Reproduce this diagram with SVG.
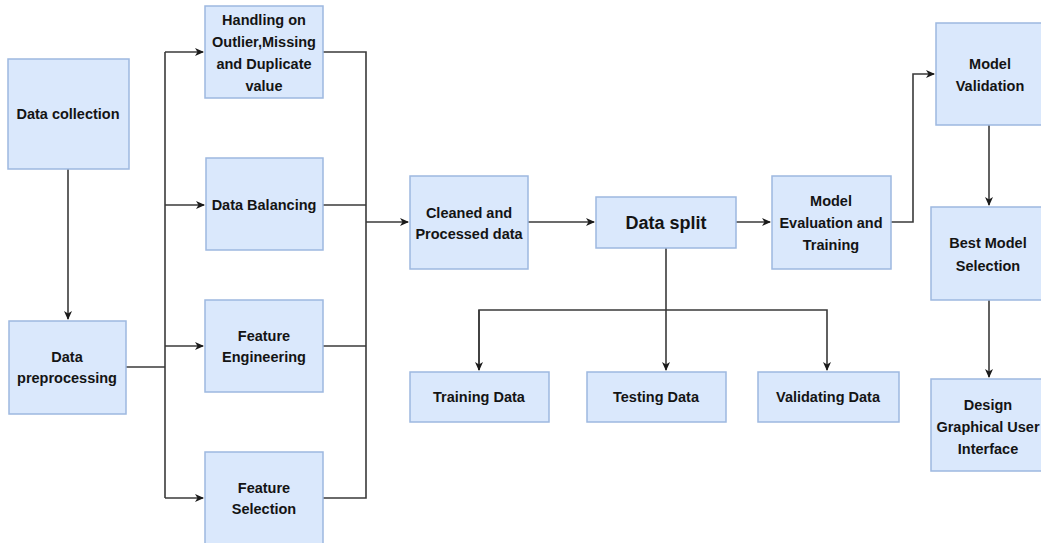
<svg xmlns="http://www.w3.org/2000/svg" width="1041" height="543" viewBox="0 0 1041 543">
<style>
.box{fill:#dae8fc;stroke:#9db8e0;stroke-width:1.5}
.t{font-family:"Liberation Sans",Arial,sans-serif;font-weight:bold;font-size:14.5px;fill:#141414;text-anchor:middle;dominant-baseline:central}
.c{fill:none;stroke:#3a3a3a;stroke-width:1.6}
</style>
<defs>
<marker id="ah" markerWidth="10" markerHeight="10" refX="9" refY="5" orient="auto" markerUnits="userSpaceOnUse">
<path d="M1,1 L10,5 L1,9 L3.5,5 Z" fill="#1a1a1a"/>
</marker>
</defs>
<rect width="1041" height="543" fill="#ffffff"/>
<g id="connectors">
<path class="c" d="M68,169 V319" marker-end="url(#ah)"/>
<path class="c" d="M126,367 H165" stroke-width="2"/>
<path class="c" d="M165,52 V498"/>
<path class="c" d="M165,52 H203" marker-end="url(#ah)"/>
<path class="c" d="M165,205 H204" marker-end="url(#ah)"/>
<path class="c" d="M165,346 H203" marker-end="url(#ah)"/>
<path class="c" d="M165,498 H203" marker-end="url(#ah)"/>
<path class="c" d="M323,52 H366 V498 H323"/>
<path class="c" d="M323,205 H366"/>
<path class="c" d="M323,346 H366"/>
<path class="c" d="M366,222 H408" marker-end="url(#ah)"/>
<path class="c" d="M528,222 H594" marker-end="url(#ah)"/>
<path class="c" d="M736,222 H770" marker-end="url(#ah)"/>
<path class="c" d="M891,222 H913 V74 H934" marker-end="url(#ah)"/>
<path class="c" d="M989,125 V205" marker-end="url(#ah)"/>
<path class="c" d="M989,300 V377" marker-end="url(#ah)"/>
<path class="c" d="M666,248 V370" stroke-width="2" marker-end="url(#ah)"/>
<path class="c" d="M479,370 V310 H827 V370" marker-end="url(#ah)"/>
<path class="c" d="M479,310 V370" marker-end="url(#ah)"/>
</g>
<g id="data-collection"><rect class="box" x="8" y="59" width="121" height="110"/><text class="t" x="68" y="114">Data collection</text></g>
<g id="data-preprocessing"><rect class="box" x="9" y="321" width="117" height="93"/><text class="t" x="67" y="357">Data</text><text class="t" x="67" y="378">preprocessing</text></g>
<g id="handling"><rect class="box" x="205" y="6" width="118" height="92"/><text class="t" x="264" y="20">Handling on</text><text class="t" x="264" y="42">Outlier,Missing</text><text class="t" x="264" y="64">and Duplicate</text><text class="t" x="264" y="86">value</text></g>
<g id="data-balancing"><rect class="box" x="206" y="158" width="117" height="92"/><text class="t" x="264" y="205">Data Balancing</text></g>
<g id="feature-engineering"><rect class="box" x="205" y="300" width="118" height="92"/><text class="t" x="264" y="336">Feature</text><text class="t" x="264" y="357">Engineering</text></g>
<g id="feature-selection"><rect class="box" x="205" y="452" width="118" height="92"/><text class="t" x="264" y="488">Feature</text><text class="t" x="264" y="509">Selection</text></g>
<g id="cleaned"><rect class="box" x="410" y="176" width="118" height="93"/><text class="t" x="469" y="213">Cleaned and</text><text class="t" x="469" y="234">Processed data</text></g>
<g id="data-split"><rect class="box" x="596" y="197" width="140" height="51"/><text class="t" x="666" y="223" style="font-size:18px">Data split</text></g>
<g id="model-eval"><rect class="box" x="772" y="176" width="119" height="93"/><text class="t" x="831" y="201">Model</text><text class="t" x="831" y="223">Evaluation and</text><text class="t" x="831" y="245">Training</text></g>
<g id="training-data"><rect class="box" x="410" y="372" width="139" height="50"/><text class="t" x="479" y="397">Training Data</text></g>
<g id="testing-data"><rect class="box" x="587" y="372" width="139" height="50"/><text class="t" x="656" y="397">Testing Data</text></g>
<g id="validating-data"><rect class="box" x="758" y="372" width="141" height="50"/><text class="t" x="828" y="397">Validating Data</text></g>
<g id="model-validation"><rect class="box" x="936" y="23" width="106" height="102"/><text class="t" x="990" y="64">Model</text><text class="t" x="990" y="86">Validation</text></g>
<g id="best-model"><rect class="box" x="931" y="207" width="111" height="93"/><text class="t" x="988" y="243">Best Model</text><text class="t" x="988" y="266">Selection</text></g>
<g id="design-gui"><rect class="box" x="931" y="379" width="111" height="92"/><text class="t" x="988" y="405">Design</text><text class="t" x="988" y="427">Graphical User</text><text class="t" x="988" y="449">Interface</text></g>
</svg>
